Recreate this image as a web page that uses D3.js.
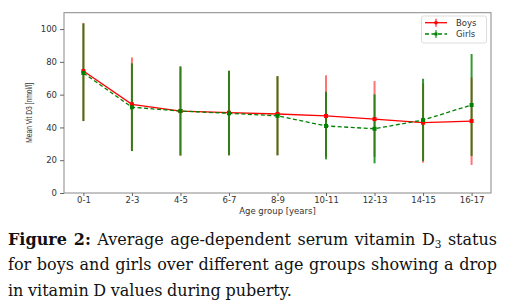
<!DOCTYPE html>
<html>
<head>
<meta charset="utf-8">
<script src="https://cdn.jsdelivr.net/npm/d3@7"></script>
<style>
  html, body { margin: 0; padding: 0; background: #fff; }
  body { width: 511px; height: 307px; position: relative; overflow: hidden; }
  .cap { position: absolute; left: 8px; width: 489px; font-family: "DejaVu Serif", serif; font-size: 16px; line-height: 25px; color: #111; white-space: nowrap; word-spacing: -0.5px; }
  .just { text-align: justify; text-align-last: justify; }
  .cap b { font-weight: bold; }
  .cap sub { font-size: 10.5px; vertical-align: -3px; line-height: 0; }
</style>
</head>
<body>
<svg id="chart" width="511" height="220" style="position:absolute;left:0;top:0"></svg>
<div class="cap just" style="top:227px"><b>Figure 2:</b> Average age-dependent serum vitamin D<sub>3</sub> status</div>
<div class="cap just" style="top:252px">for boys and girls over different age groups showing a drop</div>
<div class="cap" style="top:278px">in vitamin D values during puberty.</div>
<script>
// age groups and values
const ageGroups = ["0-1", "2-3", "4-5", "6-7", "8-9", "10-11", "12-13", "14-15", "16-17"];
const boysMean  = [74.4, 54.1, 50.0, 49.0, 48.2, 47.0, 45.1, 42.9, 43.9];
const boysLow   = [43.9, 25.6, 22.6, 23.0, 23.0, 22.0, 22.0, 18.5, 17.1];
const boysHigh  = [103.8, 82.7, 77.2, 74.6, 71.3, 71.8, 68.3, 66.9, 70.5];
const girlsMean = [73.2, 52.3, 50.0, 48.6, 47.1, 40.9, 39.2, 44.5, 53.7];
const girlsLow  = [43.9, 25.6, 23.0, 23.0, 23.0, 20.5, 18.1, 19.5, 22.6];
const girlsHigh = [103.4, 79.1, 77.2, 74.6, 71.3, 61.8, 60.2, 69.7, 84.8];
const yTicks = [0, 20, 40, 60, 80, 100];

const svg = d3.select("#chart");
const plotL = 64, plotR = 491, plotT = 12.7, plotB = 193;

const x = d3.scaleLinear().domain([-0.4, ageGroups.length - 1 + 0.4]).range([plotL, plotR]);
const y = d3.scaleLinear().domain([0, 110]).range([plotB, plotT]);

// frame
svg.append("rect").attr("x", plotL).attr("y", plotT).attr("width", plotR - plotL).attr("height", plotB - plotT)
  .attr("fill", "none").attr("stroke", "#888").attr("stroke-width", 1);

// y axis
const yAxis = svg.append("g").attr("transform", `translate(${plotL},0)`)
  .call(d3.axisLeft(y).tickValues(yTicks).tickSize(4).tickPadding(3));
yAxis.select(".domain").remove();
yAxis.selectAll("line").attr("stroke", "#666");
yAxis.selectAll("text").attr("font-family", "DejaVu Sans").attr("font-size", 8.5).attr("fill", "#333");

// x axis
const xAxis = svg.append("g").attr("transform", `translate(0,${plotB})`)
  .call(d3.axisBottom(x).tickValues(d3.range(ageGroups.length)).tickFormat(i => ageGroups[i]).tickSize(3).tickPadding(1));
xAxis.select(".domain").remove();
xAxis.selectAll("line").attr("stroke", "#666");
xAxis.selectAll("text").attr("font-family", "DejaVu Sans").attr("font-size", 8.5).attr("fill", "#333");

// axis titles
svg.append("text").attr("x", (plotL + plotR) / 2).attr("y", 214).attr("text-anchor", "middle")
  .attr("font-family", "DejaVu Sans").attr("font-size", 8.5).attr("fill", "#333").text("Age group [years]");
svg.append("text").attr("transform", `translate(32,${(plotT + plotB) / 2 + 10}) rotate(-90)`).attr("text-anchor", "middle")
  .attr("font-family", "Liberation Sans").attr("font-size", 9).attr("fill", "#333")
  .attr("textLength", 60).attr("lengthAdjust", "spacingAndGlyphs").text("Mean Vit D3 [nmol/l]");

const series = [
  { name: "Boys", color: "red", mean: boysMean, low: boysLow, high: boysHigh, dash: null, alpha: 0.55 },
  { name: "Girls", color: "green", mean: girlsMean, low: girlsLow, high: girlsHigh, dash: "4,2.5", alpha: 0.8 }
];

const line = d3.line().x((d, i) => x(i)).y(d => y(d));

// error bars first, then lines + markers
series.forEach(s => {
  svg.append("g").selectAll("line").data(s.mean).enter().append("line")
    .attr("x1", (d, i) => x(i)).attr("x2", (d, i) => x(i))
    .attr("y1", (d, i) => y(s.low[i])).attr("y2", (d, i) => y(s.high[i]))
    .attr("stroke", s.color).attr("stroke-width", 2).attr("stroke-opacity", s.alpha);
});
series.forEach(s => {
  svg.append("path").datum(s.mean).attr("d", line).attr("fill", "none")
    .attr("stroke", s.color).attr("stroke-width", 1.3).attr("stroke-dasharray", s.dash);
  svg.append("g").selectAll("rect").data(s.mean).enter().append("rect")
    .attr("x", (d, i) => x(i) - 2).attr("y", d => y(d) - 2).attr("width", 4).attr("height", 4)
    .attr("fill", s.color);
});

// legend
const lg = svg.append("g");
lg.append("rect").attr("x", 421.5).attr("y", 16).attr("width", 65).attr("height", 27)
  .attr("fill", "#fff").attr("fill-opacity", 0.8).attr("stroke", "#ddd").attr("rx", 2);
series.forEach((s, i) => {
  const yy = 22.7 + i * 11.3;
  lg.append("line").attr("x1", 425).attr("x2", 447).attr("y1", yy).attr("y2", yy)
    .attr("stroke", s.color).attr("stroke-width", 1.3).attr("stroke-dasharray", s.dash);
  lg.append("line").attr("x1", 436).attr("x2", 436).attr("y1", yy - 4).attr("y2", yy + 4)
    .attr("stroke", s.color).attr("stroke-width", 1.5).attr("stroke-opacity", 0.7);
  lg.append("rect").attr("x", 434.5).attr("y", yy - 1.5).attr("width", 3).attr("height", 3).attr("fill", s.color);
  lg.append("text").attr("x", 456).attr("y", yy + 3).attr("font-family", "DejaVu Sans").attr("font-size", 8.5)
    .attr("fill", "#333").text(s.name);
});
</script>
</body>
</html>
